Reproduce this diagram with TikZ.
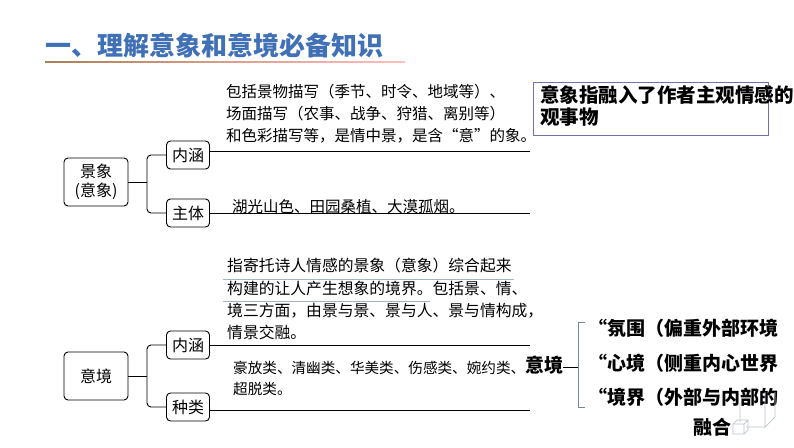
\documentclass[tikz,border=0pt]{standalone}
\usepackage{fontspec}
\setmainfont{Noto Sans CJK SC}
\newfontfamily\titlefont{Noto Sans CJK SC Black}
\usepackage{tikz}
\definecolor{titleblue}{RGB}{64,112,182}
\definecolor{framepurple}{RGB}{112,112,170}
\definecolor{marklight}{RGB}{165,178,205}
\definecolor{bracketgray}{RGB}{120,132,155}
\definecolor{cubegray}{RGB}{185,195,212}

\begin{document}
\begin{tikzpicture}[x=1pt,y=-1pt,
  box/.style={draw=black,rounded corners=4pt,line width=0.9pt,align=center,inner sep=1pt},
  bigbox/.style={box,minimum width=64pt,minimum height=48pt,font=\fontsize{16}{19}\selectfont},
  tagbox/.style={box,minimum width=43pt,minimum height=28pt,font=\fontsize{16}{18}\selectfont},
  desc/.style={anchor=north west,align=left,inner sep=0pt,font=\fontsize{15.5}{22}\selectfont},
  boldtext/.style={anchor=west,inner sep=0pt,font=\bfseries\fontsize{19}{22}\selectfont}]
  \useasboundingbox (0,0) rectangle (794,447);

  % title
  \node[anchor=west,inner sep=0pt,text=titleblue,font=\titlefont\fontsize{26}{30}\selectfont] (title) at (45,45) {一、理解意象和意境必备知识};
  \shade[left color=brown!70!gray, right color=red!25] (45,61.6) rectangle (405,62.6);

  % 景象
  \node[bigbox] (jx) at (96,182) {景象\\(意象)};
  \node[tagbox] (nh1) at (188,155) {内涵};
  \node[tagbox] (zt) at (188,213) {主体};
  \coordinate (b1) at (147,182);
  \coordinate (e1) at (530,0);
  \draw[line width=0.9pt] (jx.east) -- (b1);
  \draw[line width=0.9pt,rounded corners=4pt] (nh1.west) -| (b1) |- (zt.west);
  \draw[line width=0.9pt] ([yshift=4pt]nh1.east) -- ([yshift=4pt]nh1.east -| e1);
  \draw[line width=0.9pt] (zt.east) -- (zt.east -| e1);
  \node[desc] (t1) at (226,84) {包括景物描写（季节、时令、地域等）、\\场面描写（农事、战争、狩猎、离别等）\\和色彩描写等，是情中景，是含“意”的象。};
  \node[desc,anchor=west] (t2) at (232,207) {湖光山色、田园桑植、大漠孤烟。};

  % definition box
  \node[draw=framepurple,line width=0.9pt,minimum width=235pt,minimum height=53pt,anchor=north west] (def) at (533,82) {};
  \node[boldtext,anchor=north west,align=left,font=\bfseries\fontsize{19.5}{22}\selectfont] (deftext) at ([xshift=7pt,yshift=-3pt]def.north west) {意象指融入了作者主观情感的\\观事物};

  % 意境
  \node[bigbox] (yj) at (96,376) {意境};
  \node[tagbox] (nh2) at (188,345) {内涵};
  \node[tagbox] (zl) at (188,407) {种类};
  \coordinate (b2) at (147,376);
  \draw[line width=0.9pt] (yj.east) -- (b2);
  \draw[line width=0.9pt,rounded corners=4pt] (nh2.west) -| (b2) |- (zl.west);
  \draw[line width=0.9pt] (nh2.east) -- (nh2.east -| e1);
  \draw[line width=0.9pt] ([yshift=-3pt]zl.east) -- ([yshift=-3pt]zl.east -| e1);
  \node[desc,font=\fontsize{15.8}{22.3}\selectfont] (t3) at (227,258) {指寄托诗人情感的景象（意象）综合起来\\构建的让人产生想象的境界。包括景、情、\\境三方面，由景与景、景与人、景与情构成，\\情景交融。};
  \draw[marklight,line width=0.9pt] (223,279) -- (514,279);
  \draw[marklight,line width=0.9pt] (223,301) -- (430,301);
  \node[desc,font=\fontsize{14.6}{20.5}\selectfont] (t4) at (233,361) {豪放类、清幽类、华美类、伤感类、婉约类、\\超脱类。};

  % 意境 kinds
  \node[boldtext] (yjk) at (525,365) {意境};
  \coordinate (bt) at (585,322);
  \coordinate (bb) at (585,407);
  \coordinate (bm) at (578,367);
  \draw[line width=0.9pt] ([yshift=-2pt]yjk.east) -- ([yshift=-2pt]yjk.east -| bm);
  \draw[bracketgray,line width=1pt] (bt) -- ++(-7,0) |- (bb);
  \node[boldtext] (k1) at (588,328) {“氛围（偏重外部环境};
  \node[boldtext] (k2) at (588,363) {“心境（侧重内心世界};
  \node[boldtext] (k3) at (588,397) {“境界（外部与内部的};
  \node[boldtext] (k4) at (693,427) {融合};

  % cube icon
  \draw[cubegray,line width=0.7pt] (740,403) -- (740,422) (765,392) -- (765,427) -- (775,417) -- (775,392) (746,427) -- (765,427);
  \draw[cubegray,line width=0.7pt] (733,424) rectangle (744,434) (733,424) -- (737,420) -- (748,420) -- (748,430) -- (744,434) (744,424) -- (748,420);
\end{tikzpicture}
\end{document}
